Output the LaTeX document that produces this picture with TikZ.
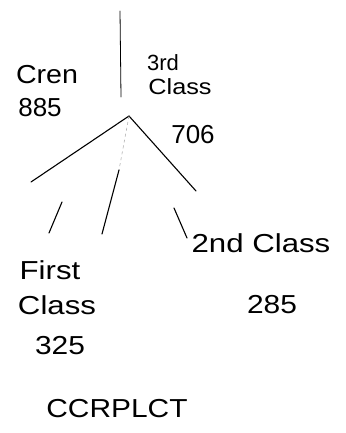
\documentclass[tikz,border=0pt]{standalone}
\usepackage{fontspec}
\setmainfont{Liberation Sans}
\begin{document}
\begin{tikzpicture}[x=1pt,y=-1pt,
  hand/.style={line width=1.1pt,line cap=round,black},
  faint/.style={line width=0.6pt,gray!60,dashed},
  lbl/.style={inner sep=0pt,font=\fontsize{26}{30}\selectfont,text=black}]
\useasboundingbox (0,0) rectangle (345,433);
% vertical line
\coordinate (top) at (120,11);
\coordinate (mid) at (121,97);
\draw[hand,line width=0.8pt] (top) -- (mid);
% apex and branches
\coordinate (apex) at (129,116);
\coordinate (lend) at (31,182);
\coordinate (rend) at (196,191);
\coordinate (mfaint) at (119,170);
\coordinate (mend) at (102,234);
\draw[hand] (lend) -- (apex) -- (rend);
\draw[faint] (apex) -- (mfaint);
\draw[hand] (mfaint) -- (mend);
% small strokes
\coordinate (s1a) at (62,202); \coordinate (s1b) at (49,233);
\coordinate (s2a) at (174,208); \coordinate (s2b) at (187,238);
\draw[hand] (s1a) -- (s1b);
\draw[hand] (s2a) -- (s2b);
% labels
\node[lbl] (crew) at (47,75) {\scalebox{1.1}[1]{Cren}};
\node[lbl] (n885) at (40,108) {\scalebox{1}[1]{885}};
\node[lbl,font=\fontsize{22}{26}\selectfont] (third) at (163,63) {3rd};
\node[lbl,font=\fontsize{22}{26}\selectfont] (cls3) at (180,87) {\scalebox{1.15}[1]{Class}};
\node[lbl] (n706) at (193,135) {706};
\node[lbl] (second) at (261,243) {\scalebox{1.2}[1]{2nd Class}};
\node[lbl] (first) at (50,270) {\scalebox{1.2}[1]{First}};
\node[lbl] (cls1) at (57,305) {\scalebox{1.2}[1]{Class}};
\node[lbl] (n325) at (60,346) {\scalebox{1.15}[1]{325}};
\node[lbl] (n285) at (272,305) {\scalebox{1.15}[1]{285}};
\node[lbl] (corr) at (117,409) {\scalebox{1.15}[1]{CCRPLCT}};
\end{tikzpicture}
\end{document}
